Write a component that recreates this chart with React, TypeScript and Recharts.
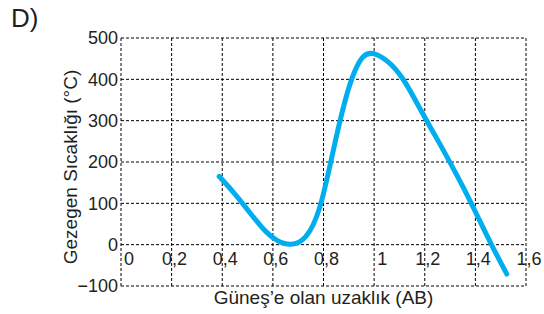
import React from 'react';
import { CartesianGrid, Line, LineChart, XAxis, YAxis } from 'recharts';

// distance from the Sun (AB) and planet temperature (°C)
const distances = [
  0.388, 0.445, 0.502, 0.558, 0.615, 0.672, 0.729, 0.786, 0.842, 0.899, 0.956,
  1.013, 1.07, 1.126, 1.183, 1.24, 1.297, 1.354, 1.41, 1.467, 1.524
];
const temperatures = [
  165, 126, 83, 41, 11, 1, 19, 92, 237, 377, 454,
  459, 434, 389, 327, 265, 202, 136, 67, -4, -71
];

const xTicks = [0, 0.2, 0.4, 0.6, 0.8, 1, 1.2, 1.4, 1.6];
const xTickLabels = ['0', '0,2', '0,4', '0,6', '0,8', '1', '1,2', '1,4', '1,6'];
const yTicks = [-100, 0, 100, 200, 300, 400, 500];
const yTickLabels = ['−100', '0', '100', '200', '300', '400', '500'];

const FONT = '"Liberation Sans", Arial, sans-serif';
const INK = '#231f20';

const data = distances.map((x, i) => ({ x, t: temperatures[i] }));

const XTick = (props: any) => {
  const { x, payload } = props;
  const idx = xTicks.indexOf(payload.value);
  const label = xTickLabels[idx] ?? String(payload.value);
  const single = !label.includes(',');
  return (
    <text
      x={x + 3}
      y={265}
      textAnchor={single ? 'start' : 'middle'}
      fontSize={18}
      fontFamily={FONT}
      fill={INK}
    >
      {label}
    </text>
  );
};

const YTick = (props: any) => {
  const { y, payload } = props;
  const idx = yTicks.indexOf(payload.value);
  return (
    <text x={118} y={y} dy="0.35em" textAnchor="end" fontSize={18} fontFamily={FONT} fill={INK}>
      {yTickLabels[idx]}
    </text>
  );
};

export default function App() {
  return (
    <div style={{ position: 'absolute', left: 0, top: 0, width: 544, height: 314, background: '#fff' }}>
      <LineChart width={544} height={314} data={data} margin={{ top: 38, right: 18, left: 0, bottom: 0 }}>
        <CartesianGrid stroke="#000" strokeDasharray="3 2" />
        <XAxis
          dataKey="x"
          type="number"
          domain={[0, 1.6]}
          ticks={xTicks}
          axisLine={false}
          tickLine={false}
          height={28}
          tick={<XTick />}
          interval={0}
        />
        <YAxis
          type="number"
          domain={[-100, 500]}
          ticks={yTicks}
          axisLine={false}
          tickLine={false}
          width={121}
          tick={<YTick />}
          interval={0}
        />
        <Line
          dataKey="t"
          type="natural"
          stroke="#00aeef"
          strokeWidth={5}
          strokeLinecap="round"
          dot={false}
          isAnimationActive={false}
        />
      </LineChart>
      <svg width={544} height={314} style={{ position: 'absolute', left: 0, top: 0, pointerEvents: 'none' }}>
        <text x={11} y={27} fontSize={26} fontFamily={FONT} fill={INK}>
          D)
        </text>
        <text x={323.5} y={304} textAnchor="middle" fontSize={19} fontFamily={FONT} fill={INK}>
          Güneş’e olan uzaklık (AB)
        </text>
        <text
          x={0}
          y={0}
          transform="translate(77 167) rotate(-90)"
          textAnchor="middle"
          fontSize={19}
          fontFamily={FONT}
          fill={INK}
        >
          Gezegen Sıcaklığı (°C)
        </text>
      </svg>
    </div>
  );
}
